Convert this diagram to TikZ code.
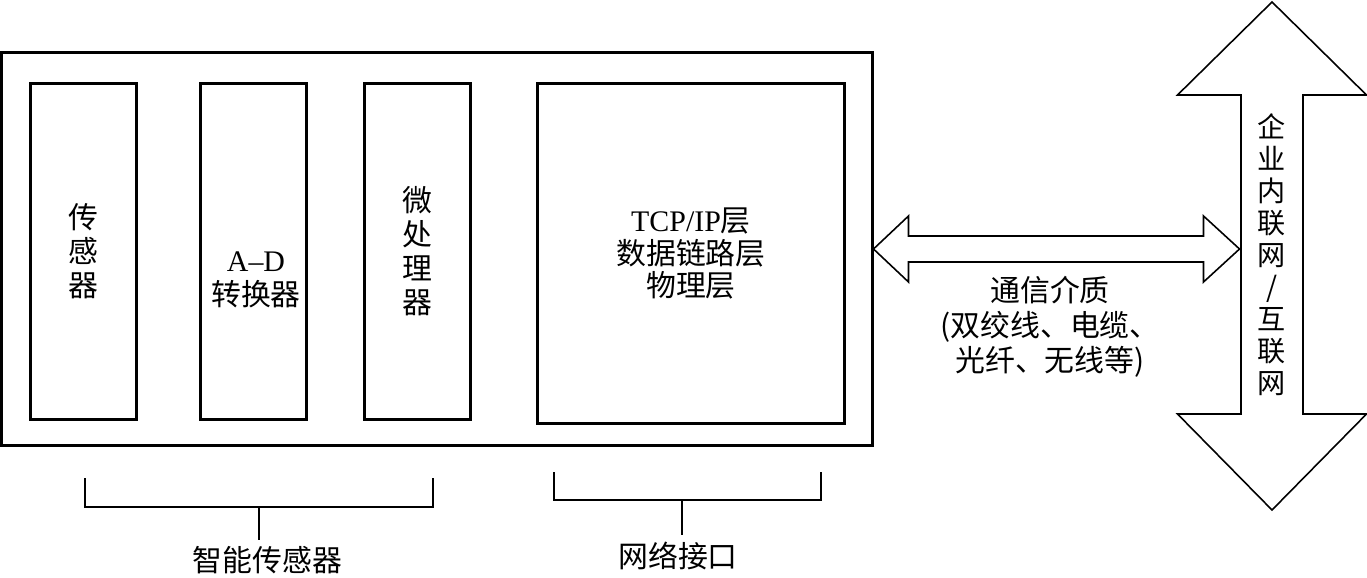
\documentclass[tikz,border=0pt]{standalone}
\usepackage{fontspec}
\setmainfont{Liberation Serif}
\newfontfamily\cjk{Noto Sans CJK SC}
\usetikzlibrary{positioning}
\tikzset{
  iot/frame/.style={
    draw=black,
    line width=1.7pt,
    minimum width=17.41cm,
    minimum height=7.86cm,
    inner sep=0pt
  },
  iot/unit/.style={
    draw=black,
    line width=1.7pt,
    minimum width=2.12cm,
    minimum height=6.72cm,
    inner sep=0pt,
    align=center,
    font={\cjk\fontsize{17pt}{19.3pt}\selectfont}
  },
  iot/label/.style={align=center, inner sep=0pt, font={\cjk\fontsize{17pt}{19.3pt}\selectfont}},
  iot/medium/.style={align=center, inner sep=0pt, font={\cjk\fontsize{17pt}{19.9pt}\selectfont}},
  iot/vertical/.style={align=center, inner sep=0pt, font={\cjk\fontsize{16pt}{18.2pt}\selectfont}},
  iot/caption/.style={inner sep=0pt, font={\cjk\fontsize{17pt}{20pt}\selectfont}},
  iot/brace/.style={draw=black, line width=0.75pt},
  iot/blockarrow/.style={draw=black, line width=0.9pt, line join=miter, fill=white}
}

\begin{document}
\begin{tikzpicture}[x=1cm,y=1cm]
  \useasboundingbox (0,0) rectangle (27.34,11.54);
  % smart sensor board
  \node[iot/frame] (board) at (8.735,6.56) {};
  \node[iot/unit] (sensor) at (1.67,6.51) {传\\感\\器};
  \node[iot/unit] (adc) at (5.07,6.51) {};
  \node[iot/label] (adc-text) at (5.12,5.94) {{\rmfamily A--D}\\转换器};
  \node[iot/unit] (cpu) at (8.35,6.51) {微\\处\\理\\器};
  \node[iot/unit,minimum width=6.14cm,minimum height=6.8cm,font={\cjk\fontsize{17pt}{18.3pt}\selectfont}] (netif) at (13.82,6.47)
    {{\rmfamily TCP/IP}层\\数据链路层\\物理层};

  % intranet / internet
  \coordinate (net-top) at (25.44,11.50);
  \draw[iot/blockarrow] (net-top) -- ++(1.89,-1.86) -- ++(-1.27,0) -- ++(0,-6.38) -- ++(1.27,0)
    -- ++(-1.89,-1.92) -- ++(-1.89,1.92) -- ++(1.27,0) -- ++(0,6.38) -- ++(-1.27,0) -- cycle;
  \node[iot/vertical] (intranet) at (25.44,6.44) {企\\业\\内\\联\\网\\/\\互\\联\\网};

  % communication medium
  \draw[iot/blockarrow] (board.east) -- ++(0.7,0.66) -- ++(0,-0.4) -- ++(5.9,0) -- ++(0,0.4)
    -- ++(0.72,-0.66) -- ++(-0.72,-0.66) -- ++(0,0.4) -- ++(-5.9,0) -- ++(0,-0.4) -- cycle;
  \node[iot/medium] (medium) at (21.0,5.0) {通信介质\\(双绞线、电缆、\\光纤、无线等)};

  % brackets
  \coordinate (smart-l) at (1.70,1.98);
  \coordinate (smart-r) at (8.66,1.98);
  \coordinate (smart-m) at (5.18,1.40);
  \coordinate (smart-f) at (5.18,0.74);
  \node[iot/caption] (smart) at (5.35,0.33) {智能传感器};
  \draw[iot/brace] (smart-l) |- (smart-m) -| (smart-r);
  \draw[iot/brace] (smart-m) -- (smart-f);

  \coordinate (iface-l) at (11.08,2.10);
  \coordinate (iface-r) at (16.42,2.10);
  \coordinate (iface-m) at (13.64,1.54);
  \coordinate (iface-f) at (13.64,0.84);
  \node[iot/caption] (iface) at (13.56,0.43) {网络接口};
  \draw[iot/brace] (iface-l) |- (iface-m) -| (iface-r);
  \draw[iot/brace] (iface-m) -- (iface-f);
\end{tikzpicture}
\end{document}
